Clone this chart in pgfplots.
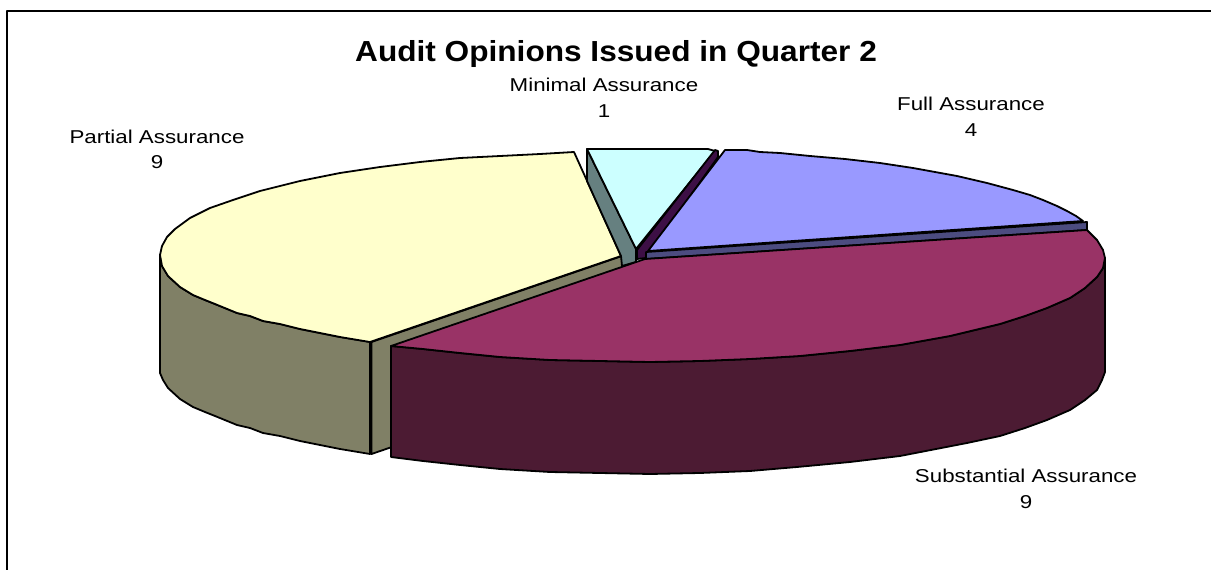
\documentclass[border=0pt]{standalone}
\usepackage{graphicx}
\usepackage{pgfplots}
\pgfplotsset{compat=1.18}
\usepackage{fontspec}
\setmainfont{Liberation Sans}
\definecolor{fullTop}{HTML}{9999FF}
\definecolor{fullSide}{HTML}{4C4C80}
\definecolor{fullCut}{HTML}{3D0F45}
\definecolor{subTop}{HTML}{993366}
\definecolor{subSide}{HTML}{4C1B33}
\definecolor{partTop}{HTML}{FFFFCC}
\definecolor{partSide}{HTML}{808066}
\definecolor{minTop}{HTML}{CCFFFF}
\definecolor{minSide}{HTML}{668080}
\newcommand{\lab}[1]{\scalebox{1.2}[1]{\fontsize{18.6}{20}\selectfont #1}}
\begin{document}
\begin{tikzpicture}
\begin{axis}[
  hide axis, scale only axis, clip=false,
  width=1211pt, height=570pt,
  xmin=0, xmax=1211, ymin=0, ymax=570, y dir=reverse,
  every axis plot/.append style={draw=black, line width=1.8pt, line join=round},
]
\path[use as bounding box] (axis cs:0,0) rectangle (axis cs:1211,570);

% outer frame, open on the right and at the bottom
\addplot[line width=2pt, line cap=butt] coordinates {(6.5,570)(6.5,10.5)(1211,10.5)};

% Partial Assurance: outer wall, cut face, top
\addplot[fill=partSide] coordinates {
 (160,255)(162,266)(168,276)(180,287)(193,295)(205,300)(215,304)(237,313)(250,316)(263,321)(280,324)(300,329)(320,333)(340,337)(370,342)
 (370,454)(340,449)(320,445)(300,441)(280,436)(263,433)(250,428)(237,425)(215,416)(205,412)(193,407)(180,399)(168,388)(163,380)(160,373)} --cycle;
\addplot[fill=partSide] coordinates {(371.5,342)(622,256)(622,368)(371.5,454)} --cycle;
\addplot[fill=partTop] coordinates {
 (621,256)(574,152)(540,154)(500,156)(460,158)(420,162)(380,167)(340,173)(300,181)
 (260,191)(233,200)(210,208)(190,218)(175,229)(167,237)(162,246)(160,255)
 (162,266)(168,276)(180,287)(193,295)(205,300)(215,304)(237,313)(250,316)(263,321)(280,324)(300,329)(320,333)(340,337)(370,342)} --cycle;

% Minimal Assurance: cut face, top
\addplot[fill=minSide] coordinates {(587,149)(587,181)(621,256)(622,266)(636,262)(636,249)} --cycle;
\addplot[fill=minTop] coordinates {(587,149)(650,149)(708,149)(715,151)(636,249)} --cycle;

% Full Assurance: cut face, rim, top
\addplot[fill=fullCut] coordinates {(715,150)(718,151)(718,157)(646,258)(637,259)(637,250)} --cycle;
\addplot[fill=fullSide] coordinates {(646,252)(1087,222)(1087,230)(646,259)} --cycle;
\addplot[fill=fullTop] coordinates {
 (648,251)(725,150)(747,150)(760,152)(780,153)(810,156)(845,159)(880,163)(913,168)(935,172)
 (957,176)(987,183)(1013,190)(1030,195)(1043,200)(1057,206)(1067,211)(1076,216)(1083,221)} --cycle;

% Substantial Assurance: outer wall, top
\addplot[fill=subSide] coordinates {
 (391,346)(423,349)(460,353)(500,357)(550,360)(600,361)(650,362)(700,361)(750,359)
 (800,356)(850,351)(900,345)(950,336)(1000,324)(1025,316)(1047,308)(1070,298)(1085,288)(1097,277)(1103,268)(1105,258)
 (1105,372)(1102,380)(1097,390)(1085,400)(1070,410)(1047,420)(1025,428)(1000,436)(967,443)(900,456)(850,462)
 (797,467)(750,471)(700,473)(650,474)(600,473)(550,472)(500,469)(460,465)(423,461)(391,457)} --cycle;
\addplot[fill=subTop] coordinates {
 (645,259)(1087,230)(1097,240)(1103,250)(1105,258)(1103,268)(1097,277)(1085,288)(1070,298)(1047,308)(1025,316)
 (1000,324)(950,336)(900,345)(850,351)(800,356)(750,359)(700,361)(650,362)(600,361)
 (550,360)(500,357)(460,353)(423,349)(391,346)} --cycle;

% title and slice labels
\node[font=\bfseries] at (axis cs:616,54) {\scalebox{1.09}[1]{\fontsize{29}{32}\selectfont Audit Opinions Issued in Quarter 2}};
\node at (axis cs:604,85) {\lab{Minimal Assurance}};
\node at (axis cs:604,111) {\lab{1}};
\node at (axis cs:971,104) {\lab{Full Assurance}};
\node at (axis cs:971,130) {\lab{4}};
\node at (axis cs:157,137) {\lab{Partial Assurance}};
\node at (axis cs:157,162) {\lab{9}};
\node at (axis cs:1026,476) {\lab{Substantial Assurance}};
\node at (axis cs:1026,502) {\lab{9}};
\end{axis}
\end{tikzpicture}
\end{document}
